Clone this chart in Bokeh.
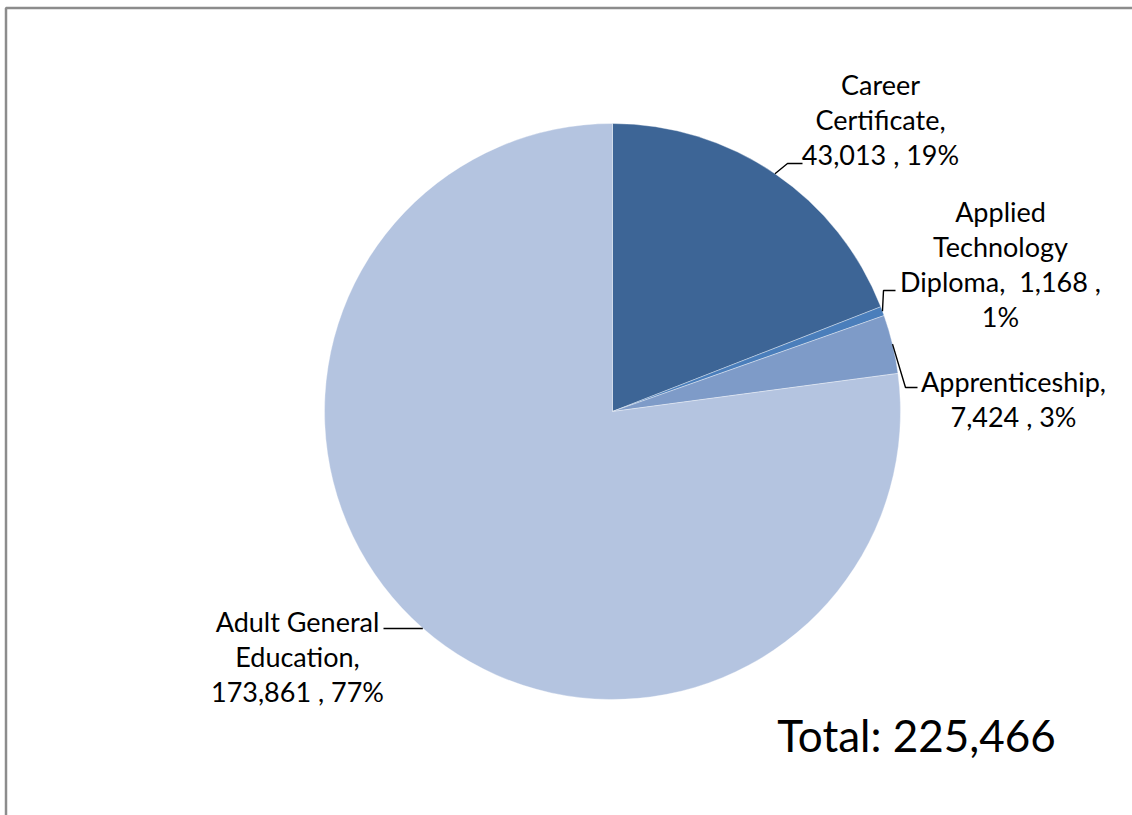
import math
from bokeh.plotting import figure
from bokeh.models import Range1d
from bokeh.core.properties import value
from bokeh.embed import file_html
from bokeh.resources import INLINE

# ---- data ----
categories = ["Career Certificate", "Applied Technology Diploma", "Apprenticeship", "Adult General Education"]
counts = [43013, 1168, 7424, 173861]
colors = ["#3D6596", "#4A7EBB", "#7E9BC8", "#B4C4E0"]
label_lines = [
    ["Career", "Certificate,", "{v} , {p}%"],
    ["Applied", "Technology", "Diploma,\u00a0 {v} ,", "{p}%"],
    ["Apprenticeship,", "{v} , {p}%"],
    ["Adult General", "Education,", "{v} , {p}%"],
]

W, H = 1132, 815
FONT = "Lato"

def X(sx):
    return sx

def Y(sy):
    return H - sy

p = figure(width=W, height=H, output_backend="svg", toolbar_location=None,
           x_range=Range1d(0, W), y_range=Range1d(0, H), min_border=0)
p.axis.visible = False
p.grid.visible = False
p.outline_line_color = None
p.background_fill_color = "white"
p.border_fill_color = "white"

# frame lines (top & left only visible in reference)
p.line([X(5.5), X(5.5), W], [0, Y(7.5), Y(7.5)], line_color="#8C8C8C", line_width=2.5)

total = sum(counts)
cx, cy, r = X(612), Y(411), 288
start = math.pi / 2
starts, ends, mids = [], [], []
for c in counts:
    a = 2 * math.pi * c / total
    starts.append(start - a)
    ends.append(start)
    mids.append(start - a / 2)
    start -= a

p.wedge(x=cx, y=cy, radius=r, start_angle=starts, end_angle=ends,
        fill_color=colors, line_color="white", line_width=0.6, line_alpha=0.6)

# leader lines: elbow & end positions (screen px) are layout
elbows = [(787, 163), (883, 290), (905, 387), None]
tails = [(802, 163), (895, 290), (917, 387), (383, 628)]
for i in range(len(counts)):
    ex = cx + r * math.cos(mids[i])
    ey = cy + r * math.sin(mids[i])
    xs, ys = [ex], [ey]
    if elbows[i] is not None:
        xs.append(X(elbows[i][0])); ys.append(Y(elbows[i][1]))
    else:
        ys[0] = Y(tails[i][1])
    xs.append(X(tails[i][0])); ys.append(Y(tails[i][1]))
    p.line(xs, ys, line_color="black", line_width=1.4)

# labels
label_pos = [(880, 84), (1000, 211), (1013, 381), (297, 621)]
line_gap = 35
tx, ty, tt = [], [], []
for i, lines in enumerate(label_lines):
    pct = round(100 * counts[i] / total)
    for j, ln in enumerate(lines):
        tt.append(ln.format(v=f"{counts[i]:,}", p=pct))
        tx.append(X(label_pos[i][0]))
        ty.append(Y(label_pos[i][1] + j * line_gap))
p.text(x=tx, y=ty, text=tt, text_font=value(FONT), text_font_size="27px",
       text_align="center", text_baseline="middle", text_color="black")

p.text(x=[X(916)], y=[Y(734)], text=[f"Total: {total:,}"], text_font=value(FONT),
       text_font_size="44px", text_align="center", text_baseline="middle",
       text_color="black")

open("out.html", "w").write(file_html(p, INLINE))
